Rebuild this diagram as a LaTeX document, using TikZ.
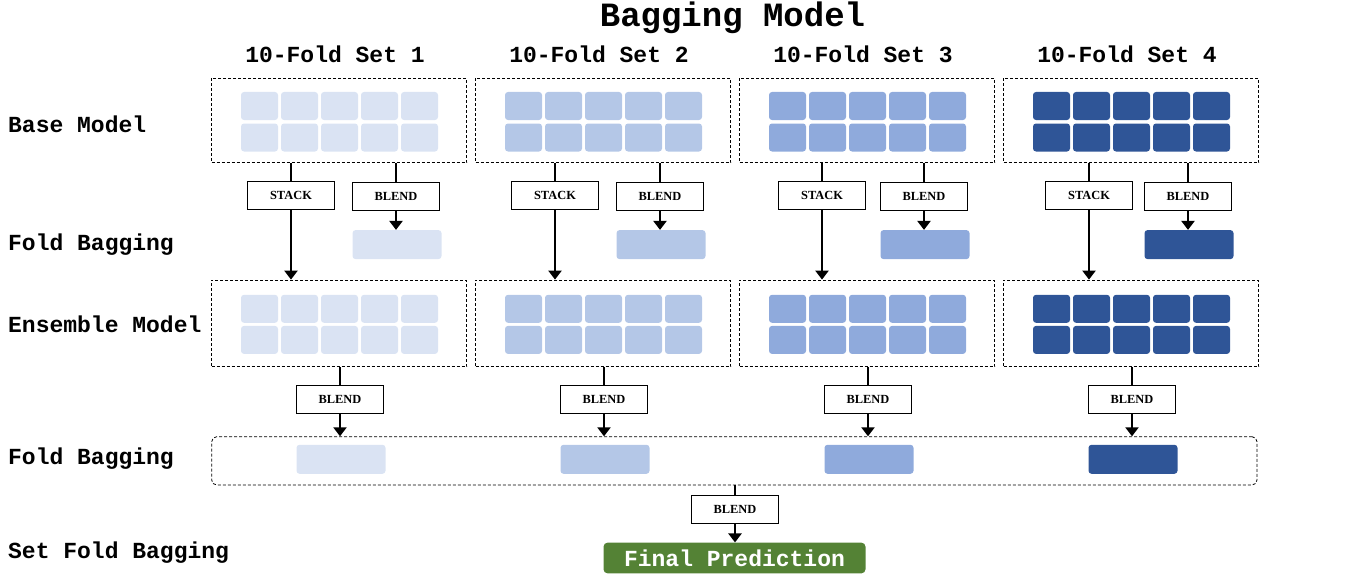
\documentclass[tikz,border=0pt]{standalone}
\usepackage{fontspec}
\usetikzlibrary{arrows.meta}
\newfontfamily\monofont{Liberation Mono}
\newfontfamily\seriffont{Liberation Serif}
\definecolor{setA}{HTML}{DAE3F3}
\definecolor{setB}{HTML}{B4C7E7}
\definecolor{setC}{HTML}{8FAADC}
\definecolor{setD}{HTML}{2F5597}
\definecolor{finalgreen}{HTML}{548235}
\tikzset{
  frame/.style={draw=black, line width=0.8pt, dash pattern=on 3pt off 2pt,
    minimum width=255pt, inner sep=0pt},
  cell/.style={fill=#1, rounded corners=3pt, minimum width=37pt,
    minimum height=28pt, inner sep=0pt},
  fold/.style={fill=#1, rounded corners=3pt, minimum width=89pt,
    minimum height=29pt, inner sep=0pt},
  tag/.style={draw=black, fill=white, line width=0.8pt, minimum width=87pt,
    minimum height=28pt, inner sep=0pt,
    font=\seriffont\fontsize{12.4}{12.4}\selectfont\bfseries},
  rowlab/.style={anchor=base west, inner sep=0pt,
    font=\monofont\fontsize{23}{23}\selectfont\bfseries},
  colhead/.style={anchor=base, inner sep=0pt,
    font=\monofont\fontsize{23}{23}\selectfont\bfseries},
  flow/.style={line width=2.8pt},
  tip/.style={flow, -{Triangle[width=13pt,length=9pt]}}
}
\begin{document}
\begin{tikzpicture}[x=1pt, y=-1pt]
\useasboundingbox (0,0) rectangle (1353,578);
\node[colhead, font=\monofont\fontsize{34}{34}\selectfont\bfseries] (title) at (732.5,27) {Bagging Model};
% row labels
\node[rowlab] (lbase) at (8,132.5) {Base Model};
\node[rowlab] (lfoldA) at (8,250.5) {Fold Bagging};
\node[rowlab] (lens) at (8,332.5) {Ensemble Model};
\node[rowlab] (lfoldB) at (8,464) {Fold Bagging};
\node[rowlab] (lset) at (8,558.5) {Set Fold Bagging};
% bottom row frame
\node[frame, rounded corners=5pt, minimum width=1045.3pt, minimum height=48.3pt] (foldrow) at (734.35,460.85) {};
% one column per set
\foreach \i/\cx/\col/\so in {1/339/setA/-48, 2/603/setB/-48, 3/867/setC/-45, 4/1131/setD/-42} {
  \node[colhead] (head\i) at (\cx-4,62.5) {10-Fold Set \i};
  \node[frame, minimum height=84.7pt] (base\i) at (\cx,120.35) {};
  \node[frame, minimum height=86.7pt] (ens\i) at (\cx,323.35) {};
  \foreach \c in {0,...,4} {
    \node[cell=\col] (cb-\i-\c-a) at (\cx+0.5+40*\c-80,106) {};
    \node[cell=\col] (cb-\i-\c-b) at (\cx+0.5+40*\c-80,137.5) {};
    \node[cell=\col] (ce-\i-\c-a) at (\cx+0.5+40*\c-80,308.8) {};
    \node[cell=\col] (ce-\i-\c-b) at (\cx+0.5+40*\c-80,339.9) {};
  }
  \node[tag] (stack\i) at (\cx+\so,195) {STACK};
  \node[tag] (blendA\i) at (\cx+57,196) {BLEND};
  \node[fold=\col] (foldA\i) at (\cx+58,244.6) {};
  \node[tag] (blendB\i) at (\cx+1,399) {BLEND};
  \node[fold=\col] (foldB\i) at (\cx+2,459.3) {};
  % connectors
  \draw[flow] (base\i.south -| stack\i.north) -- (stack\i.north);
  \draw[tip] (stack\i.south) -- (stack\i.south |- ens\i.north);
  \draw[flow] (base\i.south -| blendA\i.north) -- (blendA\i.north);
  \draw[tip] (blendA\i.south) -- (blendA\i.south |- foldA\i.north);
  \draw[flow] (ens\i.south -| blendB\i.north) -- (blendB\i.north);
  \draw[tip] (blendB\i.south) -- (blendB\i.south |- foldrow.north);
}
% final blend
\node[tag] (blendC) at (735,509.7) {BLEND};
\node[fill=finalgreen, rounded corners=4pt, minimum width=262pt, minimum height=30.7pt,
  inner sep=0pt, text=white, font=\monofont\fontsize{23}{23}\selectfont\bfseries] (final) at (734.5,558) {Final Prediction};
\draw[flow] (foldrow.south -| blendC.north) -- (blendC.north);
\draw[tip] (blendC.south) -- (final.north -| blendC.south);
\end{tikzpicture}
\end{document}
